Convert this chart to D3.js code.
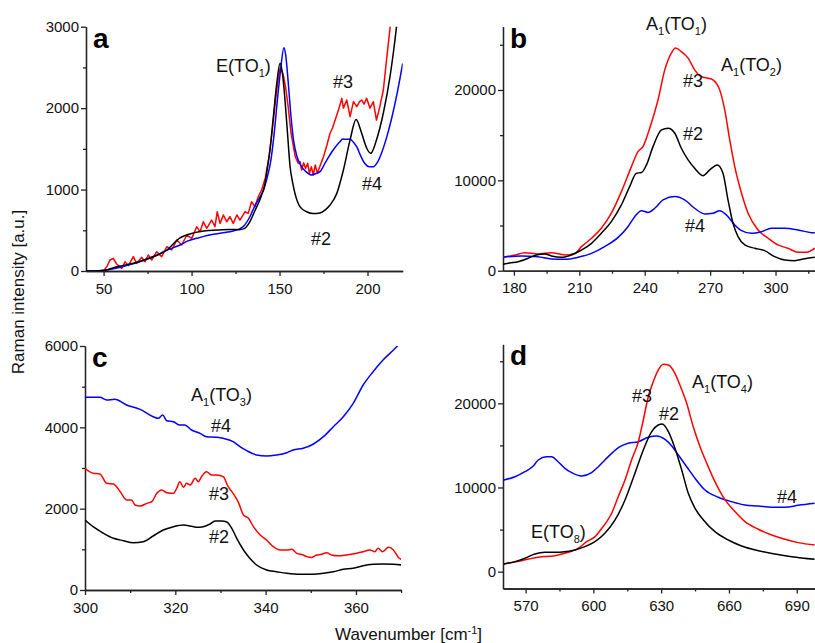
<!DOCTYPE html>
<meta charset="utf-8">
<head>
<style>
body { margin: 0; background: #fff; }
svg { font-family: "Liberation Sans", Arial, sans-serif; }
.tick text { font-size: 15px; fill: #111; }
.axis path, .axis line { stroke: #222; stroke-width: 1.3px; }
.curve { fill: none; stroke-width: 1.5px; stroke-linejoin: round; }
.lbl { font-size: 18px; fill: #111; }
.letter { font-size: 28px; font-weight: bold; fill: #000; }
.title { font-size: 17px; fill: #111; }
</style>
<script src="https://d3js.org/d3.v7.min.js"></script>
</head>
<body>
<script>

// ---- data: [wavenumber, intensity] ----
// (pA2 = panel a, sample #2, ...)

// panel a
var pA2 = [[40,0],[45,0],[50,5],[57,50],[67,95],[76,156],[86,258],[93,400],[99,455],[105,485],[110,497],[116,505],[122,510],[127,508],[130,520],[133,600],[136,740],[139.5,912],[141.5,1050],[143,1250],[144.6,1490],[146.5,1900],[148.4,2300],[150.3,2550],[151.8,2400],[153.1,2100],[154.5,1700],[156,1280],[157.5,1080],[158.8,950],[161.6,790],[165.4,728],[169,705],[173,712],[176,750],[178.7,810],[182.5,950],[186.3,1240],[190.1,1610],[193.5,1860],[196.7,1690],[199.5,1510],[201.8,1445],[205.1,1610],[209,1940],[212.8,2390],[216.6,3020],[218,3300]];
var pA3 = [[50,0],[52,60],[53.6,135],[55.5,156],[57.4,86],[60.3,33],[62.2,114],[64.1,66],[66.9,176],[68.8,94],[71.7,168],[73.5,114],[75.4,197],[77.3,135],[80.2,237],[83,176],[85.9,298],[88.7,258],[91.6,380],[94.4,319],[97.3,442],[100.1,401],[102.9,544],[104.8,483],[106.7,605],[108.6,524],[111.4,626],[113.3,544],[114.6,728],[116.2,585],[118.1,688],[120,605],[121.8,667],[123.7,585],[125.7,688],[127.5,626],[130.4,728],[132.2,708],[134.1,851],[136,790],[137.9,912],[139.8,995],[142,1150],[144,1400],[146,1750],[148,2150],[149.5,2400],[150.5,2500],[152,2420],[153.5,2250],[155,2000],[156.5,1700],[157.9,1527],[159,1400],[160.7,1322],[161.6,1343],[162.6,1240],[163.7,1330],[164.8,1260],[166,1322],[167,1199],[168.1,1281],[169.2,1179],[170.3,1302],[171.5,1200],[173,1290],[175,1404],[177,1550],[178.7,1691],[180,1750],[181.6,1854],[183.5,1977],[185.4,2120],[186.3,2000],[188.2,2100],[190.1,1895],[192,2080],[193.9,2018],[195.5,2080],[196.7,2100],[198,2050],[199.5,2120],[201.4,2000],[203.3,2080],[205.1,1854],[207,2018],[209,2223],[210.8,2591],[213.1,3042],[214.5,3400]];
var pA4 = [[40,0],[45,0],[50,8],[55,25],[60,48],[65,78],[70,110],[75,150],[80,195],[85,245],[90,290],[93.4,319],[98,370],[102.9,401],[107,425],[112.3,450],[117,468],[121.8,483],[125,500],[127.5,520],[130,560],[133,660],[136,800],[138.9,912],[141,1000],[143,1150],[145,1350],[147,1700],[149,2150],[150.5,2450],[152.5,2740],[153.5,2650],[155,2300],[156.5,1900],[158,1600],[160,1400],[162,1300],[165,1220],[168,1180],[171,1200],[173,1220],[176,1330],[180,1470],[184,1580],[186,1620],[188.2,1617],[190,1620],[192,1580],[194,1520],[196,1420],[198.5,1320],[201,1280],[203.3,1280],[205.5,1330],[208,1450],[211,1650],[214,1900],[217,2200],[220,2550]];

// panel b
var pB2 = [[175,700],[178,850],[181.9,1000],[186.5,1370],[190.3,1740],[194.1,1850],[197.2,1630],[201.8,1480],[206.4,1740],[211,2290],[215.6,3030],[220.1,4140],[224.7,5430],[229.3,7280],[233.1,9300],[236.2,10790],[238.5,10860],[240.8,11710],[243.8,13730],[247.7,15580],[250.7,15770],[253.8,15210],[256.8,13550],[259.9,12260],[262.9,11340],[266.7,10520],[269.8,11150],[273.3,11710],[275.9,10790],[278.2,7830],[280.5,5250],[282.8,3770],[285.9,2850],[290.5,2480],[295,2220],[299.6,1550],[304.2,1180],[308.8,1110],[313.4,1330],[318,1500]];
var pB3 = [[175,1480],[180,1700],[185,1990],[191,1850],[197.2,1990],[203.3,1740],[207.9,1920],[211,2660],[215.6,3590],[220.1,4700],[224.7,6360],[229.3,8750],[233.9,11520],[236.9,13180],[239.2,13730],[242.3,15770],[246.1,18900],[249.2,22220],[252.2,24070],[254.1,24630],[256.8,24250],[259.9,23520],[262.9,22220],[266,21480],[269.1,21300],[271.3,21120],[274.4,20010],[276.7,17790],[279,14470],[281.3,11520],[284.4,8570],[287.4,6360],[292,4510],[296.6,3590],[301.1,2850],[305.7,2480],[310.3,2040],[314.2,2040],[318,2500]];
var pB4 = [[175,1480],[183.4,1630],[191,1550],[197.2,1290],[203.3,1260],[209.4,1480],[215.6,1920],[221.6,2660],[227.8,3690],[232.3,4870],[235.4,5980],[238.5,6640],[241.5,6450],[244.6,6910],[248.4,7830],[253.8,8200],[258.3,7830],[262.9,6910],[267.5,6280],[271.3,6350],[274.4,6640],[277.5,6170],[281.3,5060],[284.4,4430],[289,4140],[293.5,4320],[298.1,4700],[304.2,4700],[310.3,4510],[316.5,4210],[318,4200]];

// panel c
var pC2 = [[300,1721],[301.8,1557],[304.1,1394],[306.3,1271],[308.5,1213],[310.7,1164],[312.9,1189],[315.1,1328],[317.3,1475],[319.6,1557],[321.8,1598],[323.3,1574],[324.7,1541],[326.2,1557],[327.7,1623],[328.8,1697],[330.3,1697],[331.4,1672],[332.5,1517],[333.6,1271],[335.1,984],[336.5,779],[338,615],[340.2,492],[342.4,450],[344.7,410],[347.6,385],[350.6,385],[352.8,410],[355,450],[357.2,508],[359.4,533],[361.6,598],[363.8,631],[366,640],[368.3,631],[370.3,615]];
var pC3 = [[300,2992],[301.8,2869],[303.3,2855],[304.8,2623],[306.3,2607],[307.8,2417],[309.2,2213],[310.3,2213],[311.1,2090],[312.2,2065],[313.7,2131],[314.8,2172],[315.9,2377],[317,2459],[318.1,2393],[319.6,2377],[320.3,2500],[321,2664],[321.8,2525],[322.5,2623],[323.3,2582],[324.4,2746],[325.1,2664],[325.8,2787],[326.9,2910],[328,2828],[329.2,2828],[330.6,2787],[331.7,2541],[332.8,2377],[333.9,2172],[335.1,1844],[336.2,1762],[337.3,1557],[338.8,1352],[340.2,1230],[341.7,1066],[343.2,984],[344.7,984],[345.8,1000],[346.9,902],[348.3,861],[349.1,820],[350.2,800],[351.3,861],[352.4,877],[353.5,918],[354.6,861],[356.1,840],[357.9,861],[360.2,902],[361.6,943],[363.1,984],[364.2,943],[364.9,1025],[365.9,943],[367.2,1050],[368.3,984],[369.4,800],[370.3,738]];
var pC4 = [[300,4738],[303.3,4738],[304.8,4672],[306.6,4690],[309.2,4549],[312.2,4443],[315.1,4262],[316.2,4221],[317.2,4303],[318.1,4164],[319.6,4139],[321,4057],[322.1,4057],[323.6,3934],[325.5,3852],[326.9,3770],[329.2,3754],[330.6,3729],[332.8,3647],[334.3,3524],[335.8,3426],[338,3320],[340.2,3295],[342.4,3320],[344.7,3377],[346.1,3443],[348.3,3484],[350.6,3590],[352.8,3770],[355,4016],[357.2,4262],[359.4,4590],[361.6,5041],[363.8,5368],[366,5655],[368.3,5901],[370.3,6130]];

// panel d
var pD2 = [[560.4,910],[565.3,1190],[569.7,1590],[574.1,2100],[578.5,2300],[583,2300],[587.4,2380],[591.8,2580],[596.3,2970],[600.7,3560],[605.1,4560],[609.6,6140],[614,8520],[618.4,11690],[622.1,14450],[625.8,16630],[628.7,17420],[630.5,17540],[633.2,16630],[636.1,14660],[639.1,12080],[642,9310],[645,7530],[648.7,6140],[653.8,4750],[659.7,3760],[665.6,3050],[673,2490],[680.4,2100],[687.8,1780],[698,1470]];
var pD3 = [[560.4,910],[568.2,1310],[575.6,1710],[583,1900],[588.9,2300],[593.3,2780],[597,3560],[600.7,4160],[603.7,5150],[605.9,5940],[608.1,6940],[611,8910],[614,10890],[616.9,13270],[619.9,15440],[622.1,18020],[624.3,20780],[626.5,22570],[628.7,23950],[631,24630],[633.2,24550],[636.1,23560],[638.3,22170],[641.3,20000],[644.2,17220],[647.2,14850],[650.2,12870],[653.8,10690],[658.3,8520],[662.7,7130],[667.1,5940],[673,5040],[678.9,4360],[684.8,3850],[690.7,3450],[698,3170]];
var pD4 = [[560.4,10890],[565.3,11280],[569.7,11880],[573.4,12550],[575.6,13270],[579.3,13660],[581.5,13660],[584.4,13060],[587.4,12280],[590.4,11760],[594.8,11370],[599.2,11760],[602.2,12470],[605.1,13270],[608.1,14060],[611.8,14850],[615.4,15250],[619.9,15440],[624.3,15960],[628,16120],[631.7,15720],[634.7,14930],[637.6,13860],[641.3,12470],[645,11090],[649.4,9700],[655.3,8840],[661.2,8310],[667.1,7920],[673,7800],[678.9,7650],[684.8,7650],[690.7,7880],[698,8120]];

// ticks
var aXTicks = [50, 100, 150, 200], aXMinor = [75, 125, 175];
var aYTicks = [0, 1000, 2000, 3000], aYMinor = [500, 1500, 2500];
var bXTicks = [180, 210, 240, 270, 300], bXMinor = [195, 225, 255, 285, 315];
var bYTicks = [0, 10000, 20000], bYMinor = [5000, 15000, 25000];
var cXTicks = [300, 320, 340, 360], cXMinor = [310, 330, 350, 370];
var cYTicks = [0, 2000, 4000, 6000], cYMinor = [1000, 3000, 5000];
var dXTicks = [570, 600, 630, 660, 690], dXMinor = [585, 615, 645, 675];
var dYTicks = [0, 10000, 20000], dYMinor = [5000, 15000, 25000];

var colors = {"2": "#000000", "3": "#ff0000", "4": "#0000ff"};

var svg = d3.select("body").append("svg")
    .attr("width", 815)
    .attr("height", 643);

// text with sub/superscripts: parts = [[text, "sub"|"sup"|undefined], ...]
function richText(g, x, y, parts, cls) {
  var t = g.append("text").attr("class", cls).attr("x", x).attr("y", y);
  var shift = 0;
  parts.forEach(function(p) {
    var dy = 0;
    if (p[1] == "sub") dy = 5 - shift;
    else if (p[1] == "sup") dy = -6 - shift;
    else dy = -shift;
    shift += dy;
    var s = t.append("tspan").attr("dy", dy).text(p[0]);
    if (p[1]) s.style("font-size", "11px");
  });
  return t;
}

function panel(cfg) {
  var x = d3.scaleLinear().domain(cfg.xDomain).range([cfg.left, cfg.right]);
  var y = d3.scaleLinear().domain(cfg.yDomain).range([cfg.bottom, cfg.top]);
  var g = svg.append("g");

  var clipId = "clip-" + cfg.name;
  g.append("clipPath").attr("id", clipId)
    .append("rect")
      .attr("x", cfg.left).attr("y", cfg.top)
      .attr("width", cfg.right - cfg.left).attr("height", cfg.bottom - cfg.top);

  // minor ticks
  g.append("g").attr("class", "axis")
      .attr("transform", "translate(0," + cfg.bottom + ")")
      .call(d3.axisBottom(x).tickValues(cfg.xMinor).tickSize(3).tickSizeOuter(0).tickFormat(""));
  g.append("g").attr("class", "axis")
      .attr("transform", "translate(" + cfg.left + ",0)")
      .call(d3.axisLeft(y).tickValues(cfg.yMinor).tickSize(3).tickSizeOuter(0).tickFormat(""));

  // major ticks
  g.append("g").attr("class", "axis")
      .attr("transform", "translate(0," + cfg.bottom + ")")
      .call(d3.axisBottom(x).tickValues(cfg.xTicks).tickSize(5).tickSizeOuter(0).tickPadding(4).tickFormat(d3.format("d")))
    .selectAll("text").attr("dy", "0.9em");
  g.append("g").attr("class", "axis")
      .attr("transform", "translate(" + cfg.left + ",0)")
      .call(d3.axisLeft(y).tickValues(cfg.yTicks).tickSize(5).tickSizeOuter(0).tickPadding(2).tickFormat(d3.format("d")));
  g.selectAll(".axis").attr("font-family", null).attr("font-size", null);

  var line = d3.line()
      .x(function(d) { return x(d[0]); })
      .y(function(d) { return y(d[1]); });

  var plot = g.append("g").attr("clip-path", "url(#" + clipId + ")");
  cfg.series.forEach(function(s) {
    line.curve(s.rough ? d3.curveLinear : d3.curveMonotoneX);
    plot.append("path")
        .datum(s.values)
        .attr("class", "curve")
        .attr("stroke", colors[s.key])
        .attr("d", line);
  });

  g.append("text").attr("class", "letter")
      .attr("x", cfg.left + 7).attr("y", cfg.top + 21)
      .text(cfg.name);

  cfg.labels.forEach(function(l) {
    richText(g, l[0], l[1], l[2], "lbl");
  });
}

panel({
  name: "a", left: 86, right: 402.7, top: 26.7, bottom: 271,
  xDomain: [40, 220], yDomain: [0, 3000],
  xTicks: aXTicks, xMinor: aXMinor, yTicks: aYTicks, yMinor: aYMinor,
  series: [{key: "3", values: pA3, rough: true}, {key: "4", values: pA4}, {key: "2", values: pA2}],
  labels: [
    [216, 72, [["E(TO"], ["1", "sub"], [")"]]],
    [333, 88, [["#3"]]],
    [362, 190, [["#4"]]],
    [311, 245, [["#2"]]]
  ]
});

panel({
  name: "b", left: 503, right: 815, top: 26.7, bottom: 270.7,
  xDomain: [175, 318.1], yDomain: [0, 27000],
  xTicks: bXTicks, xMinor: bXMinor, yTicks: bYTicks, yMinor: bYMinor,
  series: [{key: "3", values: pB3}, {key: "4", values: pB4}, {key: "2", values: pB2}],
  labels: [
    [646, 30, [["A"], ["1", "sub"], ["(TO"], ["1", "sub"], [")"]]],
    [721, 71, [["A"], ["1", "sub"], ["(TO"], ["2", "sub"], [")"]]],
    [683, 87, [["#3"]]],
    [683, 140, [["#2"]]],
    [685, 232, [["#4"]]]
  ]
});

panel({
  name: "c", left: 85, right: 401.1, top: 346, bottom: 590,
  xDomain: [300, 370], yDomain: [0, 6000],
  xTicks: cXTicks, xMinor: cXMinor, yTicks: cYTicks, yMinor: cYMinor,
  series: [{key: "3", values: pC3}, {key: "4", values: pC4}, {key: "2", values: pC2}],
  labels: [
    [191, 401, [["A"], ["1", "sub"], ["(TO"], ["3", "sub"], [")"]]],
    [211, 432, [["#4"]]],
    [209, 500, [["#3"]]],
    [209, 543, [["#2"]]]
  ]
});

panel({
  name: "d", left: 503, right: 814.8, top: 344.4, bottom: 588.5,
  xDomain: [560, 698], yDomain: [-2000, 27000],
  xTicks: dXTicks, xMinor: dXMinor, yTicks: dYTicks, yMinor: dYMinor,
  series: [{key: "4", values: pD4}, {key: "3", values: pD3}, {key: "2", values: pD2}],
  labels: [
    [632, 402, [["#3"]]],
    [659, 420, [["#2"]]],
    [692, 388, [["A"], ["1", "sub"], ["(TO"], ["4", "sub"], [")"]]],
    [777, 503, [["#4"]]],
    [531, 538, [["E(TO"], ["8", "sub"], [")"]]]
  ]
});

// axis titles
svg.append("text").attr("class", "title")
    .attr("transform", "translate(24,292) rotate(-90)")
    .style("text-anchor", "middle")
    .text("Raman intensity [a.u.]");

richText(svg, 335, 640, [["Wavenumber [cm"], ["-1", "sup"], ["]"]], "title");

</script>
</body>
